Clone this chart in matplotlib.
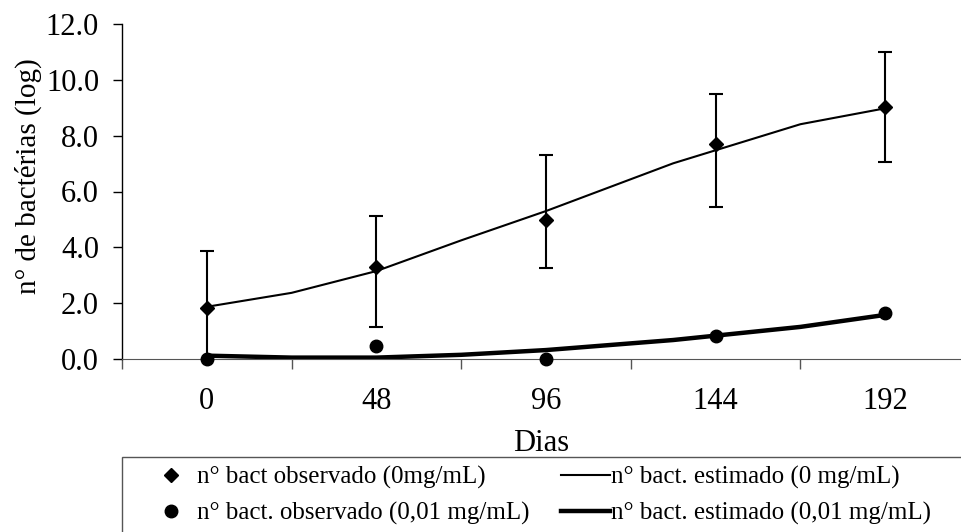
import matplotlib
matplotlib.use("Agg")
import matplotlib.pyplot as plt
from matplotlib.lines import Line2D
from matplotlib.patches import Rectangle

plt.rcParams['font.family'] = ['Liberation Serif', 'DejaVu Serif']

# dados
dias = [0, 48, 96, 144, 192]
obs_0 = [1.82, 3.31, 4.98, 7.71, 9.02]
obs_0_sup = [3.88, 5.13, 7.29, 9.50, 11.01]
obs_0_inf = [-0.24, 1.16, 3.25, 5.46, 7.07]
obs_001 = [0.0, 0.47, 0.0, 0.82, 1.66]

dias_est = [0, 24, 48, 72, 96, 132, 168, 192]
est_0 = [1.87, 2.37, 3.15, 4.25, 5.30, 7.01, 8.41, 8.98]
est_001 = [0.12, 0.05, 0.05, 0.15, 0.32, 0.68, 1.15, 1.58]

W, H = 961, 532
fig = plt.figure(figsize=(W / 100, H / 100), dpi=100)
ax = fig.add_axes([122 / W, 1 - 359 / H, 848 / W, 335 / H])

err_lo = [o - l for o, l in zip(obs_0, obs_0_inf)]
err_hi = [u - o for o, u in zip(obs_0, obs_0_sup)]
ax.errorbar(dias, obs_0, yerr=[err_lo, err_hi], fmt='none', ecolor='black',
            elinewidth=1.5, capsize=5, capthick=1.5)
ax.plot(dias_est, est_0, color='black', lw=1.5)
ax.plot(dias_est, est_001, color='black', lw=3.2)
ax.plot(dias, obs_0, 'D', color='black', ms=7, clip_on=False, zorder=5)
ax.plot(dias, obs_001, 'o', color='black', ms=9, clip_on=False, zorder=5)

ax.set_xlim(-24, 216)
ax.set_ylim(0, 12)
ax.set_yticks([0, 2, 4, 6, 8, 10, 12])
ax.set_yticklabels(['%.1f' % v for v in [0, 2, 4, 6, 8, 10, 12]])
ax.set_xticks([-24, 24, 72, 120, 168, 216])
ax.set_xticklabels([])
ax.set_xticks(dias, minor=True)
ax.set_xticklabels([str(d) for d in dias], minor=True)
ax.tick_params(axis='y', direction='out', length=6.5, width=1, labelsize=22, pad=10)
ax.tick_params(axis='x', which='major', direction='out', length=7.2, width=1, color='#555555')
ax.tick_params(axis='x', which='minor', length=0, labelsize=22, pad=20)

for s in ['top', 'right']:
    ax.spines[s].set_visible(False)
ax.spines['bottom'].set_color('#555555')
ax.spines['left'].set_linewidth(1)

ax.set_ylabel('n° de bactérias (log)', fontsize=21)
ax.yaxis.set_label_coords(-0.094, 0.545)
ax.set_xlabel('Dias', fontsize=22)
ax.xaxis.set_label_coords(0.494, -0.21)

# caixa da legenda
fig.patches.append(Rectangle((122 / W, -0.05), 0.9, 1 - 457 / H + 0.05,
                             transform=fig.transFigure, fill=False,
                             edgecolor='#555555', lw=1))

handles = [
    Line2D([], [], marker='D', color='black', ls='none', ms=7),
    Line2D([], [], marker='o', color='black', ls='none', ms=9),
    Line2D([], [], color='black', lw=1.5),
    Line2D([], [], color='black', lw=3.2),
]
labels = [
    'n° bact observado (0mg/mL)',
    'n° bact. observado (0,01 mg/mL)',
    'n° bact. estimado (0 mg/mL)',
    'n° bact. estimado (0,01 mg/mL)',
]
fig.legend(handles, labels, ncol=2, loc='upper left',
           bbox_to_anchor=(147 / W, 1 - 466 / H), frameon=False,
           fontsize=18, handlelength=1.95, handletextpad=0.05,
           columnspacing=1.25, labelspacing=0.5, borderpad=0,
           borderaxespad=0)

fig.savefig('out.png', dpi=100)
